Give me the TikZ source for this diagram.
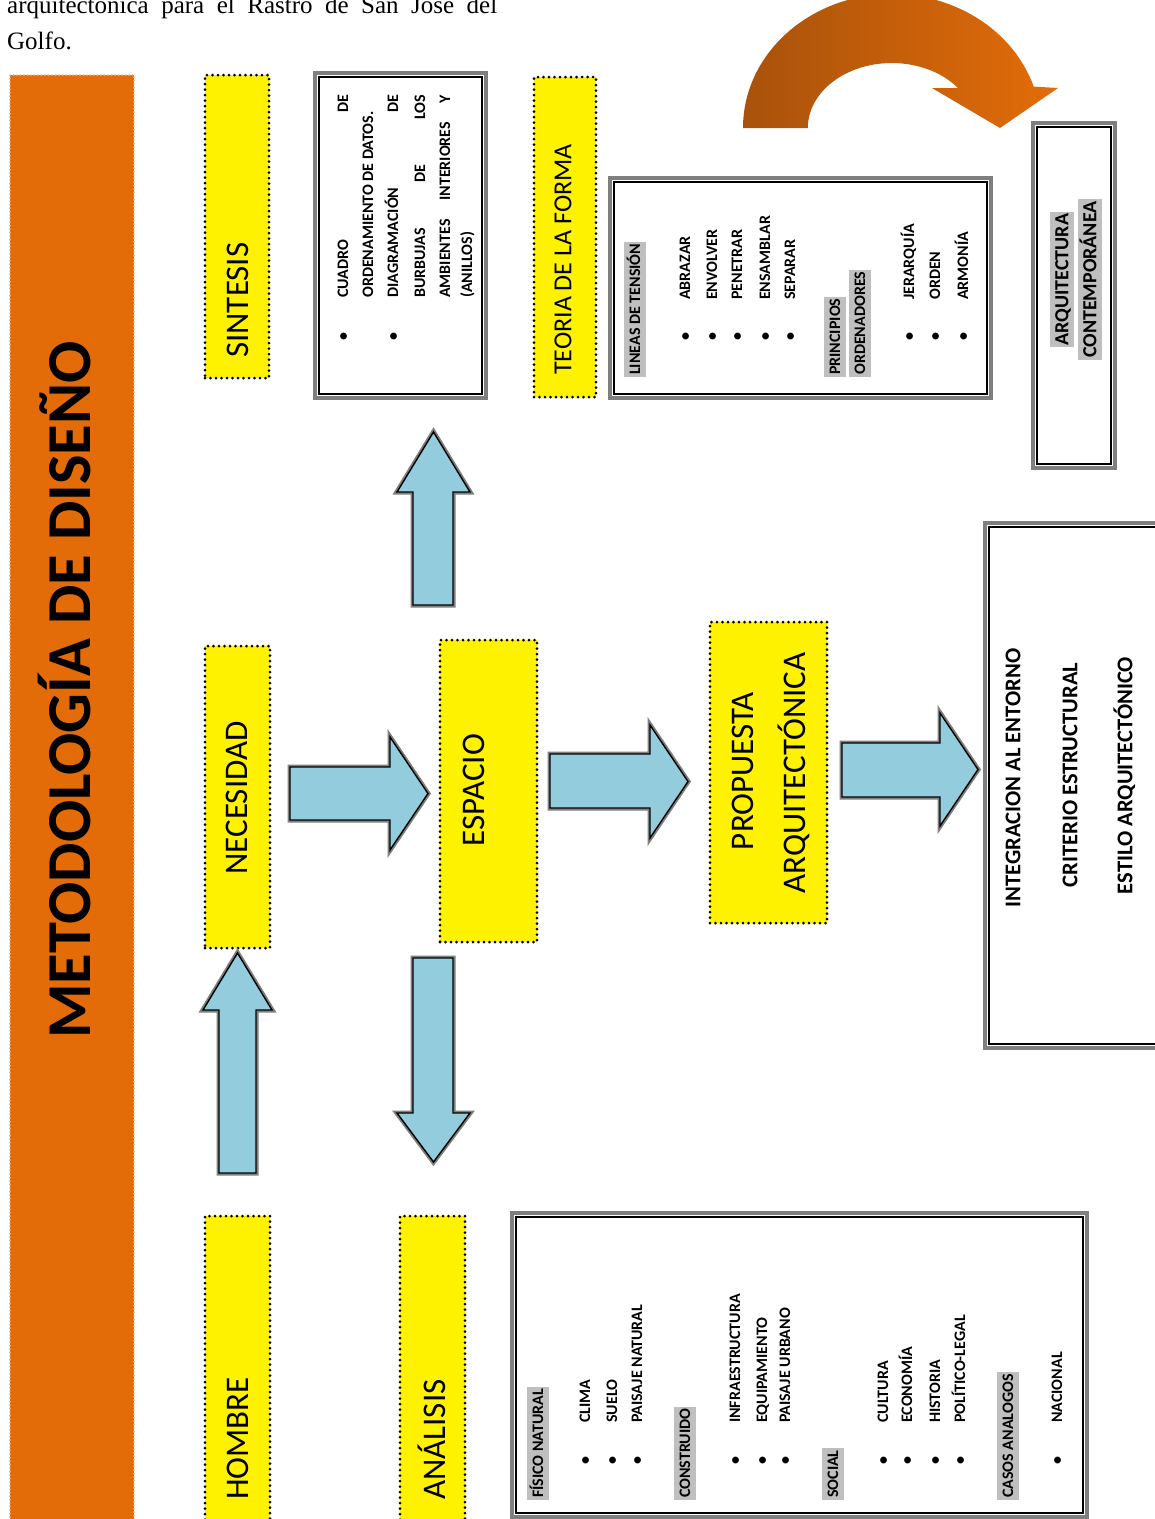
\documentclass[tikz,border=0pt]{standalone}
\usepackage{fontspec}
\setmainfont{Carlito}
\newfontfamily\timesfont{Liberation Serif}
\usetikzlibrary{calc}
\definecolor{barorange}{HTML}{E36C09}
\definecolor{darkorange}{HTML}{A8520B}
\definecolor{lightblue}{HTML}{93CDDD}
\definecolor{hlgray}{HTML}{BFBFBF}
\definecolor{boxgray}{HTML}{7F7F7F}
\newcommand\fsz[1]{\fontsize{#1}{#1}\selectfont}
\newcommand\dboxat[5]{%
  \node[dbox, minimum width={#4-#2}, minimum height={#5-#3}] (#1) at ({(#2+#4)/2},{(#3+#5)/2}) {};
  \draw[black, line width=1.6pt] ($(#1.north west)+(6,6)$) rectangle ($(#1.south east)+(-6,-6)$);}
\newcommand\li[4]{\node[rlab,small] (#1) at (#2,#3) {#4};}
\newcommand\bul[3]{\node[rlab,small,anchor=center] (#1) at (#2,#3) {•};}
\newcommand\hd[4]{\node[rlab,small,hl] (#1) at (#2,#3) {#4};}
\newcommand\blockarrow[1]{%
  \draw[boxgray, line width=5pt, line join=miter] #1;
  \fill[lightblue] #1;
  \draw[black, line width=1.4pt, line join=miter] #1;}
\begin{document}
\begin{tikzpicture}[x=1pt,y=-1pt,
  ybox/.style={fill=yellow, draw=black, line width=3pt, dash pattern=on 0pt off 5.5pt, line cap=round, inner sep=0pt},
  dbox/.style={draw=boxgray, line width=4pt, fill=white, inner sep=0pt},
  rlab/.style={rotate=90, inner sep=0pt, text depth=0pt, anchor=west},
  big/.style={font=\fsz{33}, text height=21pt},
  small/.style={font=\bfseries\fsz{16}, text height=10.3pt},
  mid/.style={font=\bfseries\fsz{22.5}, text height=14.5pt},
  hl/.style={fill=hlgray, inner xsep=2pt, inner ysep=5.5pt}]
\useasboundingbox (0,0) rectangle (1155,1519);
\fill[white] (0,0) rectangle (1155,1519);

% running text
\node[anchor=base west, inner sep=0pt, font=\timesfont\fontsize{25}{30}\selectfont] (line1) at (7,13)
  {\makebox[490pt][s]{arquitectónica para el Rastro de San José del}};
\node[anchor=base west, inner sep=0pt, font=\timesfont\fontsize{25}{30}\selectfont] (line2) at (7,49) {Golfo.};

% orange title bar
\node[fill=barorange, draw=barorange!55!white, line width=2pt, dash pattern=on 0pt off 3.5pt, line cap=round,
      minimum width=124, minimum height=1460, inner sep=0pt] (bar) at (72,805) {};
\node[rlab, anchor=center, font=\bfseries\fsz{62.5}, text height=40pt] (title) at (70,690) {METODOLOGÍA DE DISEÑO};

% curved orange arrow
\shade[left color=darkorange, right color=barorange]
  (743,128) arc[start angle=180, end angle=342, x radius=149, y radius=134]
  -- (1058,88) -- (1000,128) -- (932,88) -- (958,88)
  arc[start angle=322, end angle=180, x radius=84, y radius=65] -- cycle;

% yellow boxes
\node[ybox, minimum width=64, minimum height=303] (sintesis) at (237,226.5) {};
\node[ybox, minimum width=62, minimum height=320] (teoria) at (565,237) {};
\node[ybox, minimum width=65, minimum height=302] (necesidad) at (237.5,797) {};
\node[ybox, minimum width=97, minimum height=302] (espacio) at (488.5,791) {};
\node[ybox, minimum width=117, minimum height=301] (propuesta) at (768.5,772.5) {};
\node[ybox, minimum width=65, minimum height=309] (hombre) at (237.5,1370.5) {};
\node[ybox, minimum width=65, minimum height=309] (analisis) at (432.5,1370.5) {};

\node[rlab, big] (sintesis-t) at (238,358) {SINTESIS};
\node[rlab, font=\fsz{26}, text height=16.7pt] (teoria-t) at (563,375) {TEORIA DE LA FORMA};
\node[rlab, big, anchor=center] (necesidad-t) at (237,798) {NECESIDAD};
\node[rlab, big, anchor=center] (espacio-t) at (474,790) {ESPACIO};
\node[rlab, big, anchor=center] (propuesta-t1) at (743,771) {PROPUESTA};
\node[rlab, big, anchor=center] (propuesta-t2) at (795,773) {ARQUITECTÓNICA};
\node[rlab, big] (hombre-t) at (238,1500) {HOMBRE};
\node[rlab, big] (analisis-t) at (435,1500) {ANÁLISIS};

% framed boxes
\dboxat{sbox}{315}{73}{486}{398}
\dboxat{tbox}{610}{178}{991}{398}
\dboxat{abox}{1033}{123}{1115}{468}
\dboxat{ibox}{985}{523}{1170}{1048}
\dboxat{anbox}{512}{1213}{1087}{1517}

% sintesis contents
\bul{sb1}{343}{337}
\li{s1}{343}{298}{\makebox[203pt][l]{CUADRO\hfill DE}}
\li{s2}{368}{298}{ORDENAMIENTO DE DATOS.}
\bul{sb2}{393}{337}
\li{s3}{393}{298}{\makebox[203pt][l]{DIAGRAMACIÓN\hfill DE}}
\li{s4}{420}{298}{\makebox[203pt][l]{BURBUJAS\hfill DE\hfill LOS}}
\li{s5}{445}{298}{\makebox[203pt][l]{AMBIENTES\hfill INTERIORES\hfill Y}}
\li{s6}{467}{298}{(ANILLOS)}

% teoria contents
\hd{t0}{635}{377}{LINEAS DE TENSIÓN}
\bul{tb1}{685}{337}\li{t1}{685}{300}{ABRAZAR}
\bul{tb2}{712}{337}\li{t2}{712}{300}{ENVOLVER}
\bul{tb3}{737}{337}\li{t3}{737}{300}{PENETRAR}
\bul{tb4}{765}{337}\li{t4}{765}{300}{ENSAMBLAR}
\bul{tb5}{790}{337}\li{t5}{790}{300}{SEPARAR}
\hd{t6}{835}{377}{PRINCIPIOS}
\hd{t7}{860}{377}{ORDENADORES}
\bul{tb8}{909}{337}\li{t8}{909}{300}{JERARQUÍA}
\bul{tb9}{935}{337}\li{t9}{935}{300}{ORDEN}
\bul{tb10}{963}{337}\li{t10}{963}{300}{ARMONÍA}

% arquitectura contemporanea
\node[rlab, mid, font=\bfseries\fsz{20}, text height=12.9pt, hl, anchor=center] (ac1) at (1062,279.5) {ARQUITECTURA};
\node[rlab, mid, font=\bfseries\fsz{20}, text height=12.9pt, hl, anchor=center] (ac2) at (1090,279.5) {CONTEMPORÁNEA};

% integracion box
\node[rlab, mid, anchor=center] (i1) at (1013,778) {INTEGRACION AL ENTORNO};
\node[rlab, mid, anchor=center] (i2) at (1070,775) {CRITERIO ESTRUCTURAL};
\node[rlab, mid, anchor=center] (i3) at (1125,775.5) {ESTILO ARQUITECTÓNICO};

% analisis contents
\hd{a0}{538}{1500}{FÍSICO NATURAL}
\bul{ab1}{585}{1460}\li{a1}{585}{1423}{CLIMA}
\bul{ab2}{612}{1460}\li{a2}{612}{1423}{SUELO}
\bul{ab3}{637}{1460}\li{a3}{637}{1423}{PAISAJE NATURAL}
\hd{a4}{685}{1500}{CONSTRUIDO}
\bul{ab5}{735}{1460}\li{a5}{735}{1423}{INFRAESTRUCTURA}
\bul{ab6}{762}{1460}\li{a6}{762}{1423}{EQUIPAMIENTO}
\bul{ab7}{785}{1460}\li{a7}{785}{1423}{PAISAJE URBANO}
\hd{a8}{833}{1500}{SOCIAL}
\bul{ab9}{883}{1460}\li{a9}{883}{1423}{CULTURA}
\bul{ab10}{907}{1460}\li{a10}{907}{1423}{ECONOMÍA}
\bul{ab11}{935}{1460}\li{a11}{935}{1423}{HISTORIA}
\bul{ab12}{960}{1460}\li{a12}{960}{1423}{POLÍTICO-LEGAL}
\hd{a13}{1008}{1500}{CASOS ANALOGOS}
\bul{ab14}{1057}{1460}\li{a14}{1057}{1423}{NACIONAL}

% block arrows
\blockarrow{(219,1173) -- (219,1010) -- (203,1010) -- (237.5,953) -- (272,1010) -- (256,1010) -- (256,1173) -- cycle}
\blockarrow{(413,958) -- (453,958) -- (453,1113) -- (470,1113) -- (433.5,1162) -- (397,1113) -- (413,1113) -- cycle}
\blockarrow{(413,605) -- (413,492) -- (397,492) -- (433.5,432) -- (470,492) -- (453,492) -- (453,605) -- cycle}
\blockarrow{(290,767) -- (390,767) -- (390,737) -- (428,793.5) -- (390,850) -- (390,820) -- (290,820) -- cycle}
\blockarrow{(550,754) -- (650,754) -- (650,725) -- (688,781.5) -- (650,838) -- (650,808) -- (550,808) -- cycle}
\blockarrow{(842,743) -- (940,743) -- (940,713) -- (978,769.5) -- (940,826) -- (940,797) -- (842,797) -- cycle}
\end{tikzpicture}
\end{document}
